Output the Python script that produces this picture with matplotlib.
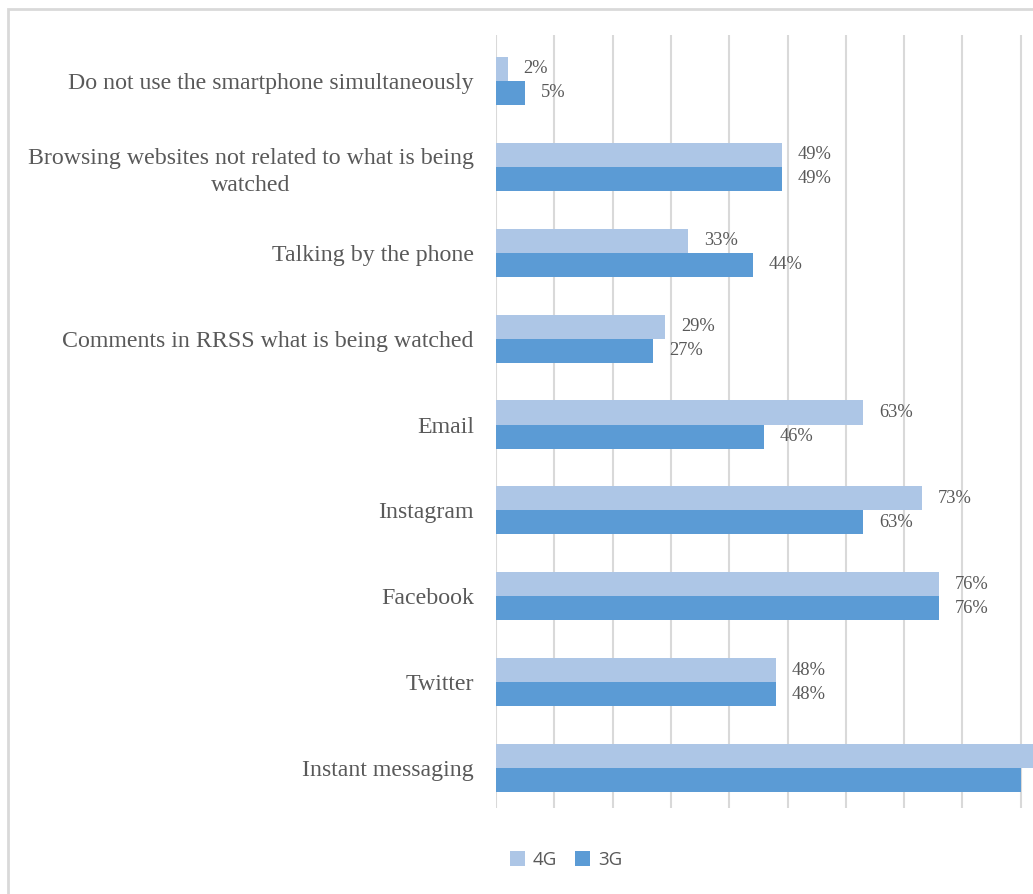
import matplotlib.pyplot as plt
import numpy as np
from matplotlib.patches import Rectangle

# Data (top to bottom as shown)
categories = [
    "Do not use the smartphone simultaneously",
    "Browsing websites not related to what is being\nwatched",
    "Talking by the phone",
    "Comments in RRSS what is being watched",
    "Email",
    "Instagram",
    "Facebook",
    "Twitter",
    "Instant messaging",
]
vals_4g = [2, 49, 33, 29, 63, 73, 76, 48, 95]
vals_3g = [5, 49, 44, 27, 46, 63, 76, 48, 90]

c4g = "#adc6e6"
c3g = "#5b9bd5"
text_gray = "#595959"

W, H = 1033, 894
fig = plt.figure(figsize=(W / 100, H / 100), dpi=100)

# light frame around the chart (cropped on the right and bottom)
fig.patches.append(Rectangle((8 / W, -0.1), 1.2, 1.1 - 9 / H, transform=fig.transFigure,
                             fill=False, edgecolor="#d9d9d9", linewidth=2))

# axes: x from 0 to 100 (right part is cropped by the figure edge)
left = 496 / W
right = (496 + 583) / W
ax = fig.add_axes([left, (H - 808) / H, right - left, (808 - 35) / H])

n = len(categories)
y = np.arange(n)
h = 0.28

ax.barh(y - h / 2, vals_4g, height=h, color=c4g, label="4G", zorder=3)
ax.barh(y + h / 2, vals_3g, height=h, color=c3g, label="3G", zorder=3)

# value labels (the ones past the visible edge are cut off in the original)
for vals, off in ((vals_4g, -h / 2), (vals_3g, h / 2)):
    for yi, v in zip(y, vals):
        if v + 2.7 > 86:
            continue
        ax.text(v + 2.7, yi + off, f"{v}%", va="center", ha="left",
                fontsize=13.3, family="Liberation Serif", color=text_gray)

ax.set_xlim(0, 100)
ax.set_ylim(n - 0.535, -0.535)
ax.set_xticks(np.arange(0, 101, 10))
ax.set_xticklabels([])
ax.tick_params(axis="both", length=0)
ax.set_yticks(y)
ax.set_yticklabels(categories, fontsize=17.2, family="Liberation Serif",
                   color=text_gray, multialignment="center", linespacing=1.35)
ax.tick_params(axis="y", pad=16)
ax.grid(axis="x", color="#d9d9d9", linewidth=1.5, zorder=0)
for s in ax.spines.values():
    s.set_visible(False)

handles, labels = ax.get_legend_handles_labels()
fig.legend(handles, labels, loc="center", bbox_to_anchor=(566 / W, 1 - 860 / H),
           ncol=2, frameon=False, handlelength=0.8, handleheight=0.8,
           columnspacing=1.0, handletextpad=0.4, labelcolor=text_gray,
           prop={"family": "Open Sans", "size": 13.5})

plt.savefig("out.png", dpi=100)
